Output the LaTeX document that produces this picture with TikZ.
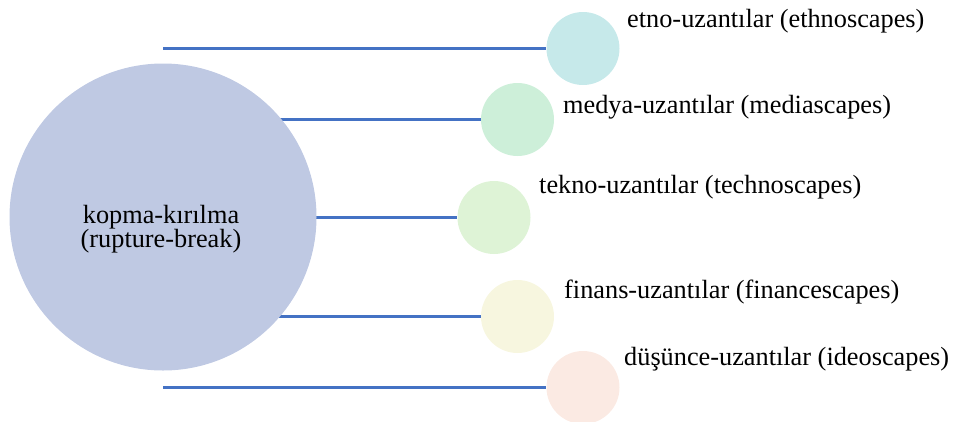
\documentclass[tikz,border=0pt]{standalone}
\usepackage{fontspec}
\setmainfont{Liberation Serif}
\usetikzlibrary{backgrounds}
\definecolor{bigc}{HTML}{BFC9E3}
\definecolor{linec}{HTML}{4472C4}
\definecolor{c1}{HTML}{C6E9EA}
\definecolor{c2}{HTML}{CDEFD9}
\definecolor{c3}{HTML}{DEF3D6}
\definecolor{c4}{HTML}{F7F6DF}
\definecolor{c5}{HTML}{FBEAE3}
\begin{document}
\begin{tikzpicture}[x=1pt,y=-1pt,
  small/.style={circle,draw=none,minimum size=73pt,inner sep=0pt},
  lbl/.style={anchor=base west,inner sep=0pt,font=\fontsize{26.3}{24}\selectfont},
  conn/.style={draw=linec,line width=2.6pt}]
\useasboundingbox (0,0) rectangle (959,421);
\node[circle,fill=bigc,minimum size=307pt,inner sep=0pt] (big) at (163,217) {};
\node[align=center,inner sep=0pt,font=\fontsize{26.3}{24}\selectfont] (bt) at (161,229) {kopma-kırılma\\(rupture-break)};
\node[small,fill=c1] (s1) at (583,48.5) {};
\node[small,fill=c2] (s2) at (517.5,119.5) {};
\node[small,fill=c3] (s3) at (494,217.5) {};
\node[small,fill=c4] (s4) at (517.5,316.5) {};
\node[small,fill=c5] (s5) at (583,387.5) {};
\node[lbl] (t1) at (627,27) {etno-uzantılar (ethnoscapes)};
\node[lbl] (t2) at (563,113) {medya-uzantılar (mediascapes)};
\node[lbl] (t3) at (539,193) {tekno-uzantılar (technoscapes)};
\node[lbl] (t4) at (564,298) {finans-uzantılar (financescapes)};
\node[lbl] (t5) at (624,365) {düşünce-uzantılar (ideoscapes)};
\begin{scope}[on background layer]
\foreach \s in {s1,s2,s3,s4,s5}
  \draw[conn] (big.center |- \s.west) -- (\s.west);
\end{scope}
\end{tikzpicture}
\end{document}
